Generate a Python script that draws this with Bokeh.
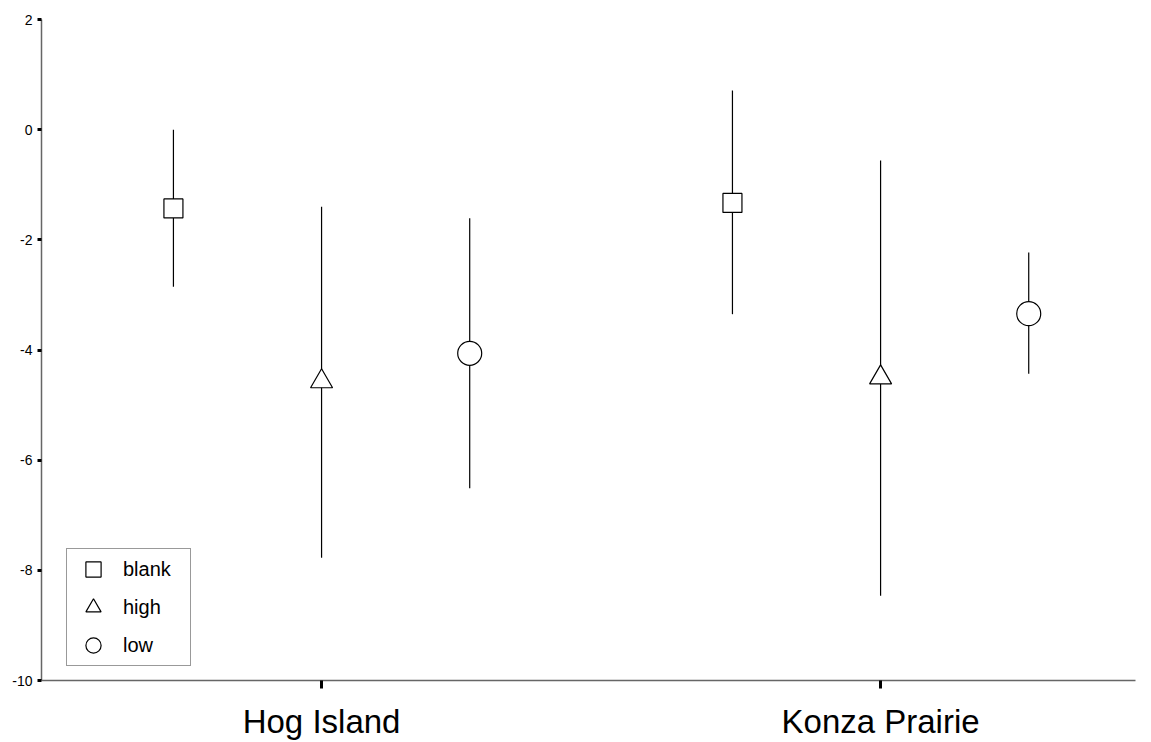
from bokeh.plotting import figure
from bokeh.models import Range1d, FixedTicker, Legend, LegendItem, ColumnDataSource
from bokeh.embed import file_html
from bokeh.resources import INLINE

# Sites and treatments
sites = ["Hog Island", "Konza Prairie"]
treatments = ["blank", "high", "low"]

# Mean and interval ends per treatment, one value per site
mean = {
    "blank": [-1.43, -1.33],
    "high": [-4.57, -4.50],
    "low": [-4.06, -3.34],
}
upper = {
    "blank": [0.0, 0.71],
    "high": [-1.40, -0.56],
    "low": [-1.61, -2.23],
}
lower = {
    "blank": [-2.85, -3.35],
    "high": [-7.77, -8.46],
    "low": [-6.51, -4.43],
}

y_ticks = [-10, -8, -6, -4, -2, 0, 2]

FONT = "Liberation Sans"
markers = {"blank": "square", "high": "triangle", "low": "circle"}
sizes = {"blank": 19, "high": 22, "low": 24}
dodge = {"blank": -0.265, "high": 0.0, "low": 0.265}
site_pos = [i + 1 for i in range(len(sites))]

p = figure(
    width=1151, height=742,
    x_range=Range1d(0.499, 2.456), y_range=Range1d(-10, 2),
    output_backend="svg", toolbar_location=None,
    min_border_left=41, min_border_right=16, min_border_top=19, min_border_bottom=62,
)
p.outline_line_color = None
p.xgrid.visible = False
p.ygrid.visible = False
p.background_fill_color = "white"
p.border_fill_color = "white"

# y axis
p.yaxis.ticker = FixedTicker(ticks=y_ticks)
p.yaxis.major_label_overrides = {t: str(t) for t in y_ticks}
p.yaxis.axis_line_color = "#666666"
p.yaxis.axis_line_width = 1.5
p.yaxis.major_tick_in = 0
p.yaxis.major_tick_out = 4
p.yaxis.major_tick_line_width = 3
p.yaxis.major_tick_line_color = "black"
p.yaxis.minor_tick_line_color = None
p.yaxis.major_label_standoff = 5
p.yaxis.major_label_text_font = FONT
p.yaxis.major_label_text_font_size = "14px"
p.yaxis.major_label_text_color = "black"

# x axis with site names
p.xaxis.ticker = FixedTicker(ticks=site_pos)
p.xaxis.major_label_overrides = {pos: s for pos, s in zip(site_pos, sites)}
p.xaxis.axis_line_color = "#666666"
p.xaxis.axis_line_width = 1.5
p.xaxis.major_tick_in = 0
p.xaxis.major_tick_out = 8
p.xaxis.major_tick_line_width = 3
p.xaxis.major_tick_line_color = "black"
p.xaxis.minor_tick_line_color = None
p.xaxis.major_label_standoff = 14
p.xaxis.major_label_text_font = FONT
p.xaxis.major_label_text_font_size = "33px"
p.xaxis.major_label_text_color = "black"

items = []
for t in treatments:
    xs = [pos + dodge[t] for pos in site_pos]
    src = ColumnDataSource(dict(x=xs, y=mean[t], lo=lower[t], hi=upper[t]))
    p.segment(x0="x", x1="x", y0="lo", y1="hi", source=src,
              line_color="black", line_width=1.2)
    r = p.scatter(x="x", y="y", source=src, marker=markers[t], size=sizes[t],
                  fill_color="white", line_color="black", line_width=1.2)
    items.append(LegendItem(label=t, renderers=[r]))

legend = Legend(
    items=items, location=(25, 14),
    glyph_width=50, glyph_height=38, spacing=0, padding=1,
    label_standoff=5, label_width=66, label_height=20,
    label_text_font=FONT, label_text_font_size="20px", label_text_color="black",
    border_line_color="#333333", border_line_width=1,
    background_fill_color="white", background_fill_alpha=1,
)
p.add_layout(legend)

open("out.html", "w").write(file_html(p, INLINE))
